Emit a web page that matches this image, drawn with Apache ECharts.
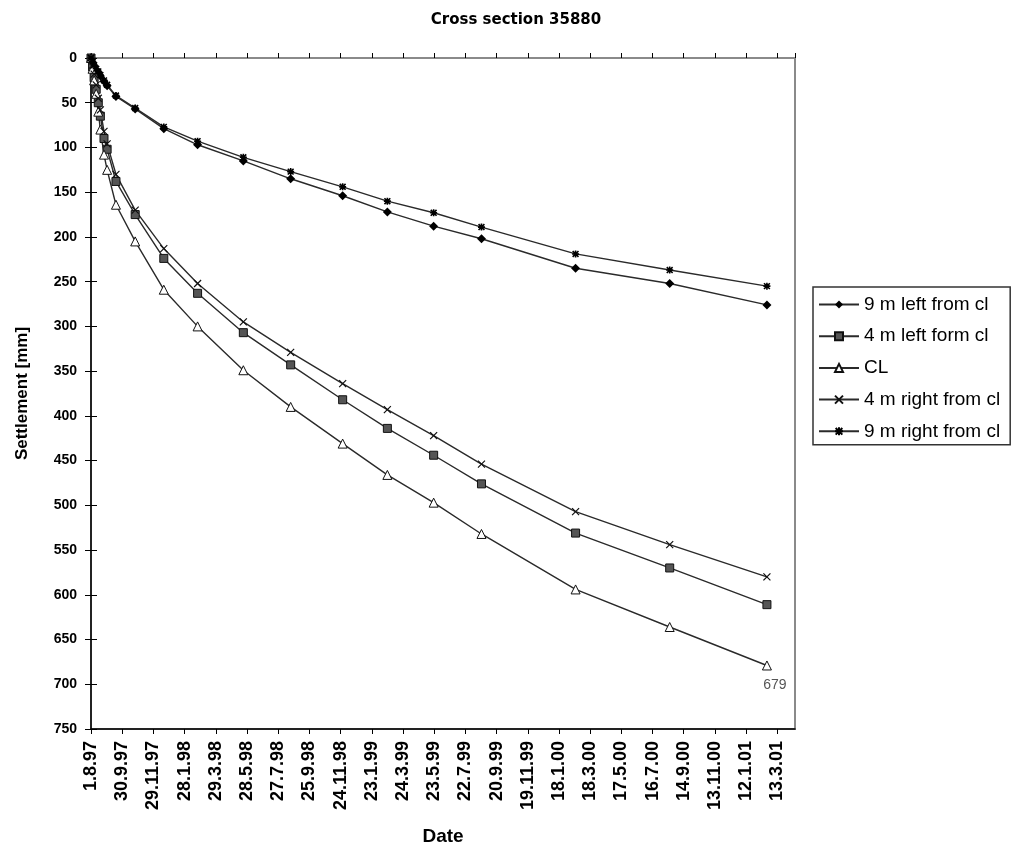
<!DOCTYPE html>
<html>
<head>
<meta charset="utf-8">
<script src="https://cdn.jsdelivr.net/npm/echarts@6/dist/echarts.min.js"></script>
<style>html,body{margin:0;padding:0;background:#fff}#c{width:1018px;height:851px}</style>
</head>
<body>
<div id="c"></div>
<script>
// Measurement dates
const dates = ['1997-08-01','1997-08-04','1997-08-07','1997-08-11','1997-08-15','1997-08-19','1997-08-26','1997-09-01','1997-09-18','1997-10-25','1997-12-19','1998-02-22','1998-05-21','1998-08-20','1998-11-28','1999-02-22','1999-05-22','1999-08-22','2000-02-19','2000-08-18','2001-02-21'];
// Settlement [mm]
const nineLeft  = [0,5,9,13,16,20,26,31,43,57,79,97,115,135,154,172,188,202,235,252,276];
const fourLeft  = [0,10,22,35,50,65,90,102,138,175,224,263,307,343,382,414,444,476,531,570,611];
const centre    = [0,12,25,40,60,80,108,125,164,205,259,300,349,390,431,466,497,532,594,636,679];
const fourRight = [0,8,18,30,45,58,82,96,130,170,213,252,295,329,364,393,422,454,507,544,580];
const nineRight = [0,4,8,12,15,19,25,30,42,56,77,93,111,127,144,160,173,189,219,237,255];
const seriesNames = ['9 m left from cl','4 m left form cl','CL','4 m right from cl','9 m right from cl'];
const axisStart = '1997-08-01';
const axisEnd = '2001-04-16';
const dayStep = 60;

const DAY = 86400000;
const t0 = Date.parse(axisStart + 'T00:00:00Z');
const toDay = s => Math.round((Date.parse(s + 'T00:00:00Z') - t0) / DAY);
const xs = dates.map(toDay);
const pairs = vals => vals.map((v, i) => [xs[i], v]);
const fmtDate = v => {
  if (v % dayStep !== 0) return '';
  const d = new Date(t0 + v * DAY);
  return d.getUTCDate() + '.' + (d.getUTCMonth() + 1) + '.' + String(d.getUTCFullYear()).slice(2);
};

const lineStyle = {color: '#2a2a2a', width: 1.4};
const crossPath = 'path://M0,0L10,10M10,0L0,10';
const starPath = 'path://M0,0L10,10M10,0L0,10M5,-1L5,11M-1,5L11,5';
function mk(name, vals, symbol, size, itemStyle, extra) {
  return Object.assign({
    name, type: 'line', data: pairs(vals), symbol, symbolSize: size,
    showSymbol: true, showAllSymbol: true, lineStyle, itemStyle,
    emphasis: {disabled: true}, animation: false, z: 3
  }, extra || {});
}
const SANS = 'Liberation Sans, Arial, sans-serif';
const lastCL = centre.length - 1;
const clData = pairs(centre).map((p, i) => i === lastCL ? {value: p, label: {show: true, formatter: String(centre[lastCL]), position: 'bottom', offset: [8, 3], color: '#555', fontSize: 14, fontFamily: SANS}} : p);

const chart = echarts.init(document.getElementById('c'), null, {renderer: 'canvas'});
const bold = {fontFamily: SANS, fontWeight: 'bold', color: '#000'};
chart.setOption({
  animation: false,
  backgroundColor: '#fff',
  title: {text: 'Cross section 35880', left: 511, top: 8, textAlign: 'center',
    textStyle: {fontFamily: 'DejaVu Sans, Liberation Sans, sans-serif', fontWeight: 'bold', fontSize: 15, color: '#000'}},
  grid: {left: 91, top: 58, width: 704, height: 671, show: true, borderColor: '#8a8a8a', borderWidth: 2, containLabel: false, outerBoundsMode: 'none'},
  legend: {
    orient: 'vertical', left: 813, top: 287, itemWidth: 40, itemHeight: 10, itemGap: 12.7,
    padding: [8, 10, 4, 5], borderColor: '#333', borderWidth: 1.5,
    textStyle: {fontFamily: SANS, fontSize: 19, color: '#000', lineHeight: 19},
    data: seriesNames
  },
  xAxis: [{
    type: 'value', min: 0, max: toDay(axisEnd), interval: dayStep,
    name: 'Date', nameLocation: 'middle', nameGap: 98,
    nameTextStyle: Object.assign({fontSize: 19}, bold),
    axisLine: {show: true, onZero: false, lineStyle: {color: '#000', width: 1.5}},
    axisTick: {show: true, length: 5, lineStyle: {color: '#000'}},
    axisLabel: Object.assign({rotate: 90, margin: 12, formatter: fmtDate, showMaxLabel: false}, bold, {fontSize: 18}),
    splitLine: {show: false}
  }, {
    type: 'value', min: 0, max: toDay(axisEnd), interval: dayStep, position: 'bottom', offset: 0,
    axisLine: {show: false}, axisTick: {show: true, inside: true, length: 5, lineStyle: {color: '#000'}},
    axisLabel: {show: false}, splitLine: {show: false}
  }],
  yAxis: [{
    type: 'value', inverse: true, min: 0, max: 750, interval: 50,
    name: 'Settlement [mm]', nameLocation: 'middle', nameGap: 60, nameRotate: 90,
    nameTextStyle: Object.assign({fontSize: 17}, bold),
    axisLine: {show: true, onZero: false, lineStyle: {color: '#000', width: 1.5}},
    axisTick: {show: true, length: 6, lineStyle: {color: '#000'}},
    axisLabel: Object.assign({margin: 14, fontSize: 14}, bold),
    splitLine: {show: false}
  }, {
    type: 'value', inverse: true, min: 0, max: 750, interval: 50, position: 'left', offset: 0,
    axisLine: {show: false}, axisTick: {show: true, inside: true, length: 6, lineStyle: {color: '#000'}},
    axisLabel: {show: false}, splitLine: {show: false}
  }],
  series: [
    mk(seriesNames[0], nineLeft, 'diamond', 9, {color: '#000'}),
    mk(seriesNames[1], fourLeft, 'rect', 8, {color: '#555', borderColor: '#111', borderWidth: 1}),
    Object.assign(mk(seriesNames[2], centre, 'triangle', 9, {color: '#fff', borderColor: '#111', borderWidth: 1}), {data: clData}),
    mk(seriesNames[3], fourRight, crossPath, 7, {color: 'none', borderColor: '#111', borderWidth: 1.2}),
    mk(seriesNames[4], nineRight, starPath, 7, {color: '#000', borderColor: '#000', borderWidth: 1.6})
  ]
});
</script>
</body>
</html>
